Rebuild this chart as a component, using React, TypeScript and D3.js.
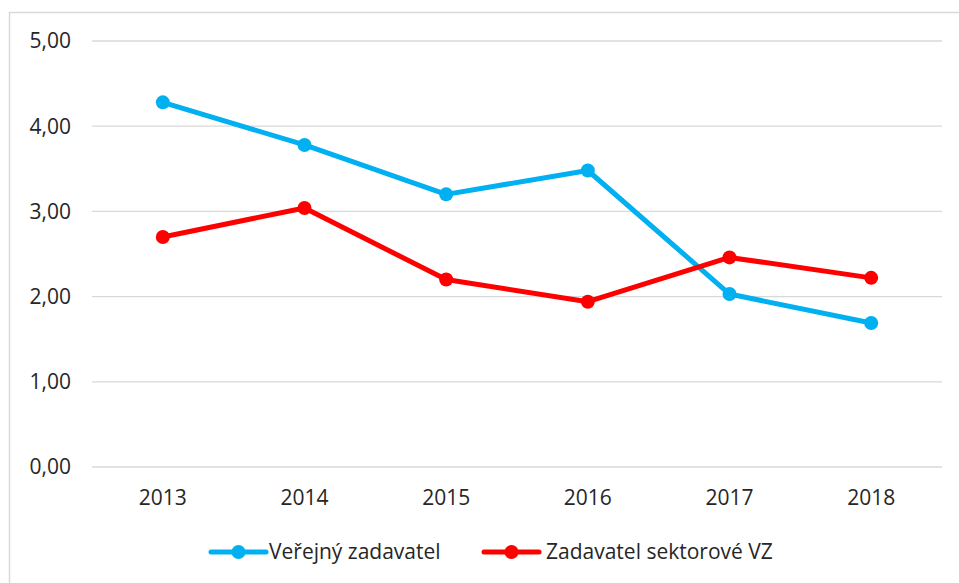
import React from "react";
import * as d3 from "d3";

const categories = ["2013", "2014", "2015", "2016", "2017", "2018"];
const verejny = [4.28, 3.78, 3.2, 3.48, 2.03, 1.69];
const sektorove = [2.7, 3.04, 2.2, 1.94, 2.46, 2.22];
const yTicks = [0, 1, 2, 3, 4, 5];
const seriesNames = ["Veřejný zadavatel", "Zadavatel sektorové VZ"];
const seriesColors = ["#00B0F0", "#FF0000"];

export default function App() {
  const W = 959, H = 583;
  const left = 92, right = 942, top = 41, bottom = 467;
  const x = d3.scaleBand<string>().domain(categories).range([left, right]);
  const y = d3.scaleLinear().domain([0, 5]).range([bottom, top]);
  const line = d3
    .line<number>()
    .x((_, i) => (x(categories[i]) as number) + x.bandwidth() / 2)
    .y((d) => y(d));
  const font = "'Open Sans', 'Noto Sans', sans-serif";
  const series = [verejny, sektorove];
  const fmt = (v: number) => v.toFixed(2).replace(".", ",");
  const legendItems = [
    { lx: 211, tx: 269 },
    { lx: 484, tx: 546 },
  ];
  const fs = 21;
  return (
    <svg
      width={W}
      height={H}
      style={{ position: "absolute", left: 0, top: 0 }}
      fontFamily={font}
    >
      <rect x={0} y={0} width={W} height={H} fill="#fff" />
      <rect x={9.5} y={12.5} width={W + 20} height={H + 20} fill="#fff" stroke="#d9d9d9" strokeWidth={1.5} />
      {yTicks.map((t) => (
        <g key={t}>
          <line x1={left} x2={right} y1={y(t)} y2={y(t)} stroke="#d9d9d9" strokeWidth={1.3} />
          <text x={71} y={y(t)} dy="0.35em" textAnchor="end" fontSize={fs} fill="#262626">
            {fmt(t)}
          </text>
        </g>
      ))}
      {categories.map((c) => (
        <text
          key={c}
          x={(x(c) as number) + x.bandwidth() / 2}
          y={505}
          textAnchor="middle"
          fontSize={fs}
          fill="#262626"
        >
          {c}
        </text>
      ))}
      {series.map((s, si) => (
        <g key={si}>
          <path d={line(s) || ""} fill="none" stroke={seriesColors[si]} strokeWidth={5} strokeLinejoin="round" strokeLinecap="round" />
          {s.map((v, i) => (
            <circle
              key={i}
              cx={(x(categories[i]) as number) + x.bandwidth() / 2}
              cy={y(v)}
              r={7}
              fill={seriesColors[si]}
            />
          ))}
        </g>
      ))}
      {legendItems.map((l, i) => (
        <g key={i}>
          <line x1={l.lx} x2={l.lx + 55} y1={552} y2={552} stroke={seriesColors[i]} strokeWidth={5} strokeLinecap="round" />
          <circle cx={l.lx + 27.5} cy={552} r={7} fill={seriesColors[i]} />
          <text x={l.tx} y={552} dy="0.35em" fontSize={fs} fill="#262626">
            {seriesNames[i]}
          </text>
        </g>
      ))}
    </svg>
  );
}
